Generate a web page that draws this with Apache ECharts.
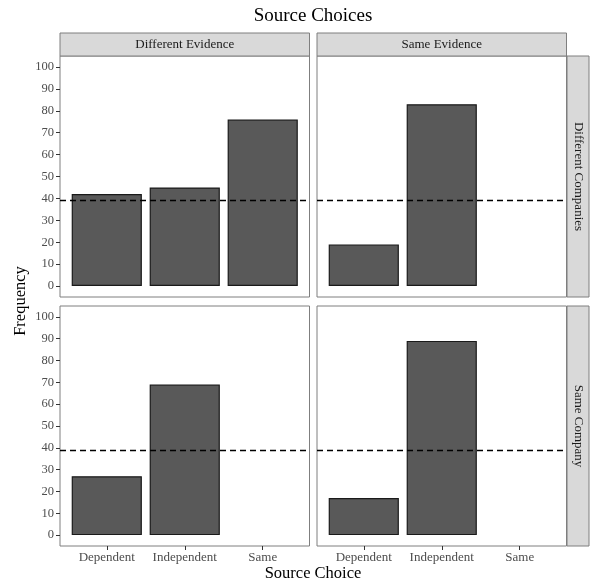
<!DOCTYPE html>
<html>
<head>
<meta charset="utf-8">
<script src="https://cdn.jsdelivr.net/npm/echarts@6/dist/echarts.min.js"></script>
<style>html,body{margin:0;padding:0;background:#fff}#c{width:590px;height:582px}</style>
</head>
<body>
<div id="c"></div>
<script>
// ---- data ----
const categories = ['Dependent', 'Independent', 'Same'];
const colFacets = ['Different Evidence', 'Same Evidence'];
const rowFacets = ['Different Companies', 'Same Company'];
const diffEvidenceDiffCompanies = [42, 45, 76];
const sameEvidenceDiffCompanies = [19, 83, null];
const diffEvidenceSameCompany = [27, 69, null];
const sameEvidenceSameCompany = [17, 89, null];
const referenceLine = 39;
const yTicks = [0, 10, 20, 30, 40, 50, 60, 70, 80, 90, 100];
const chartTitle = 'Source Choices';
const xTitle = 'Source Choice';
const yTitle = 'Frequency';

// ---- layout ----
const FONT = '"Liberation Serif", "DejaVu Serif", serif';
const panelLeft = [60, 317];
const panelWidth = [249.5, 249.5];
const panelTop = [56, 306];
const panelHeight = [241, 240];
const stripTop = 33, stripH = 23;
const rStripLeft = 567, rStripW = 22;

const panelData = [
  [diffEvidenceDiffCompanies, sameEvidenceDiffCompanies],
  [diffEvidenceSameCompany, sameEvidenceSameCompany]
];

const grids = [], xAxes = [], yAxes = [], series = [];
let idx = 0;
for (let r = 0; r < 2; r++) {
  for (let c = 0; c < 2; c++) {
    grids.push({
      left: panelLeft[c], top: panelTop[r], width: panelWidth[c], height: panelHeight[r],
      show: true, borderColor: '#7f7f7f', borderWidth: 1, backgroundColor: '#fff', containLabel: false
    });
    xAxes.push({
      type: 'value', gridIndex: idx, min: 0.4, max: 3.6, position: 'bottom',
      splitLine: { show: false },
      axisLine: { show: false, onZero: false },
      axisTick: { show: r === 1, length: 4, lineStyle: { color: '#333' }, customValues: [1, 2, 3] },
      axisLabel: {
        show: r === 1, customValues: [1, 2, 3], margin: 5,
        formatter: v => categories[Math.round(v) - 1] || '',
        fontFamily: FONT, fontSize: 13, color: '#4d4d4d'
      }
    });
    yAxes.push({
      type: 'value', gridIndex: idx, min: -5, max: 105, position: 'left',
      splitLine: { show: false },
      axisLine: { show: false, onZero: false },
      axisTick: { show: c === 0, length: 4, lineStyle: { color: '#333' }, customValues: yTicks },
      axisLabel: {
        show: c === 0, customValues: yTicks, margin: 6,
        fontFamily: FONT, fontSize: 12.5, color: '#4d4d4d'
      }
    });
    const vals = panelData[r][c];
    const bw = 0.9 * panelWidth[c] / 3.2;
    series.push({
      type: 'bar', xAxisIndex: idx, yAxisIndex: idx,
      barWidth: bw,
      data: categories.map((cat, i) => [i + 1, vals[i] == null ? '-' : vals[i]]),
      itemStyle: { color: '#595959', borderColor: '#1a1a1a', borderWidth: 1.2 },
      silent: true,
      markLine: {
        silent: true, symbol: 'none',
        label: { show: false },
        lineStyle: { color: '#000', type: [6, 4], width: 1.4 },
        data: [{ yAxis: referenceLine }]
      }
    });
    idx++;
  }
}

const graphic = [];
// top strips
for (let c = 0; c < 2; c++) {
  graphic.push({
    type: 'rect', shape: { x: panelLeft[c], y: stripTop, width: panelWidth[c], height: stripH },
    style: { fill: '#d9d9d9', stroke: '#7f7f7f', lineWidth: 1 }
  });
  graphic.push({
    type: 'text', x: panelLeft[c] + panelWidth[c] / 2, y: stripTop + stripH / 2,
    style: { text: colFacets[c], fontFamily: FONT, fontSize: 13, fill: '#1a1a1a', align: 'center', verticalAlign: 'middle' }
  });
}
// right strips
for (let r = 0; r < 2; r++) {
  graphic.push({
    type: 'rect', shape: { x: rStripLeft, y: panelTop[r], width: rStripW, height: panelHeight[r] },
    style: { fill: '#d9d9d9', stroke: '#7f7f7f', lineWidth: 1 }
  });
  graphic.push({
    type: 'text', x: rStripLeft + rStripW / 2, y: panelTop[r] + panelHeight[r] / 2, rotation: -Math.PI / 2,
    style: { text: rowFacets[r], fontFamily: FONT, fontSize: 13, fill: '#1a1a1a', align: 'center', verticalAlign: 'middle' }
  });
}
// titles
graphic.push({
  type: 'text', x: 313, y: 16,
  style: { text: chartTitle, fontFamily: FONT, fontSize: 19, fill: '#000', align: 'center', verticalAlign: 'middle' }
});
graphic.push({
  type: 'text', x: 313, y: 574,
  style: { text: xTitle, fontFamily: FONT, fontSize: 16.5, fill: '#000', align: 'center', verticalAlign: 'middle' }
});
graphic.push({
  type: 'text', x: 21, y: 301, rotation: Math.PI / 2,
  style: { text: yTitle, fontFamily: FONT, fontSize: 16.5, fill: '#000', align: 'center', verticalAlign: 'middle' }
});

const chart = echarts.init(document.getElementById('c'), null, { renderer: 'canvas' });
chart.setOption({
  backgroundColor: '#fff',
  animation: false,
  grid: grids, xAxis: xAxes, yAxis: yAxes, series: series,
  graphic: graphic
});
</script>
</body>
</html>
